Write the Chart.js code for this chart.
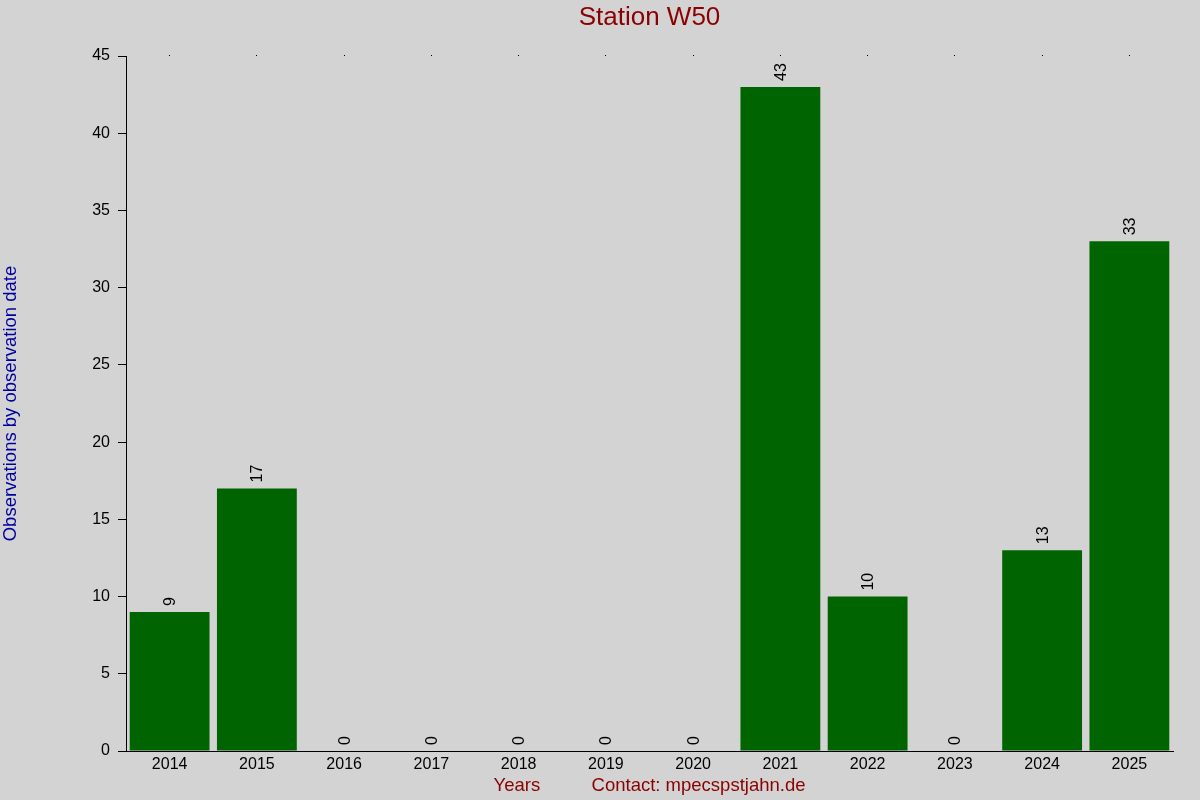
<!DOCTYPE html>
<html>
<head>
<meta charset="utf-8">
<script src="https://cdn.jsdelivr.net/npm/chart.js@4"></script>
<style>
  html, body { margin: 0; padding: 0; background: #d3d3d3; }
  #wrap { width: 1200px; height: 800px; }
</style>
</head>
<body>
<div id="wrap"><canvas id="station-chart" width="1200" height="800"></canvas></div>
<script>
// Observations per year
const years = ['2014', '2015', '2016', '2017', '2018', '2019', '2020', '2021', '2022', '2023', '2024', '2025'];
const observations = [9, 17, 0, 0, 0, 0, 0, 43, 10, 0, 13, 33];
const yTicks = [0, 5, 10, 15, 20, 25, 30, 35, 40, 45];

const FONT = 'Arial, "Liberation Sans", sans-serif';

// rotated value labels above each bar
const valueLabels = {
    id: 'valueLabels',
    afterDatasetsDraw(chart) {
        const ctx = chart.ctx;
        const meta = chart.getDatasetMeta(0);
        ctx.save();
        ctx.fillStyle = '#000';
        ctx.font = '16px ' + FONT;
        ctx.textAlign = 'left';
        ctx.textBaseline = 'middle';
        meta.data.forEach((bar, i) => {
            ctx.save();
            ctx.translate(bar.x + 1, bar.y - 6);
            ctx.rotate(-Math.PI / 2);
            ctx.fillText(String(observations[i]), 0, 0);
            ctx.restore();
        });
        ctx.restore();
    }
};

const bgPlugin = {
    id: 'bg',
    beforeDraw(chart) {
        const ctx = chart.ctx;
        ctx.save();
        ctx.fillStyle = '#d3d3d3';
        ctx.fillRect(0, 0, chart.width, chart.height);
        ctx.restore();
    }
};

const stationCtx = document.getElementById('station-chart').getContext('2d');
const stationChart = new Chart(stationCtx, {
    type: 'bar',
    data: {
        labels: years,
        datasets: [{
            label: 'Observations',
            data: observations,
            backgroundColor: '#006400',
            borderWidth: 0,
            barPercentage: 0.915,
            categoryPercentage: 1.0
        }]
    },
    options: {
        responsive: false,
        animation: false,
        layout: { padding: { left: 0, right: 27, top: 0, bottom: 0 } },
        plugins: {
            legend: { display: false },
            tooltip: { enabled: false },
            title: { display: false }
        },
        scales: {
            x: {
                position: 'bottom',
                grid: { display: false, drawTicks: false },
                border: { display: true, color: '#000', width: 1 },
                ticks: { color: '#000', font: { family: FONT, size: 16 }, padding: 4, maxRotation: 0 },
                title: {
                    display: true,
                    text: 'Years          Contact: mpecspstjahn.de',
                    color: '#8b0000',
                    font: { family: FONT, size: 18.5 },
                    padding: { top: 0, bottom: 3 }
                },
                afterFit(scale) { scale.height = 49; }
            },
            xTop: {
                type: 'category',
                labels: years,
                position: 'top',
                offset: true,
                grid: { display: true, drawOnChartArea: false, offset: false, tickLength: 1, color: '#000', lineWidth: 1 },
                border: { display: false },
                ticks: { display: false },
                title: {
                    display: true,
                    text: 'Station W50',
                    color: '#8b0000',
                    font: { family: FONT, size: 26 },
                    padding: { top: 2, bottom: 0 }
                },
                afterFit(scale) { scale.height = 56; }
            },
            y: {
                min: 0,
                max: 45,
                afterBuildTicks(scale) { scale.ticks = yTicks.map(v => ({ value: v })); },
                grid: { display: true, drawOnChartArea: false, tickLength: 8, color: '#000' },
                border: { display: true, color: '#000', width: 1 },
                ticks: { color: '#000', font: { family: FONT, size: 16 }, padding: 8 },
                title: {
                    display: true,
                    text: 'Observations by observation date',
                    color: '#0000a0',
                    font: { family: FONT, size: 18.5 },
                    padding: { top: 0, bottom: 0 }
                },
                afterFit(scale) { scale.width = 126; }
            }
        }
    },
    plugins: [bgPlugin, valueLabels]
});
</script>
</body>
</html>
